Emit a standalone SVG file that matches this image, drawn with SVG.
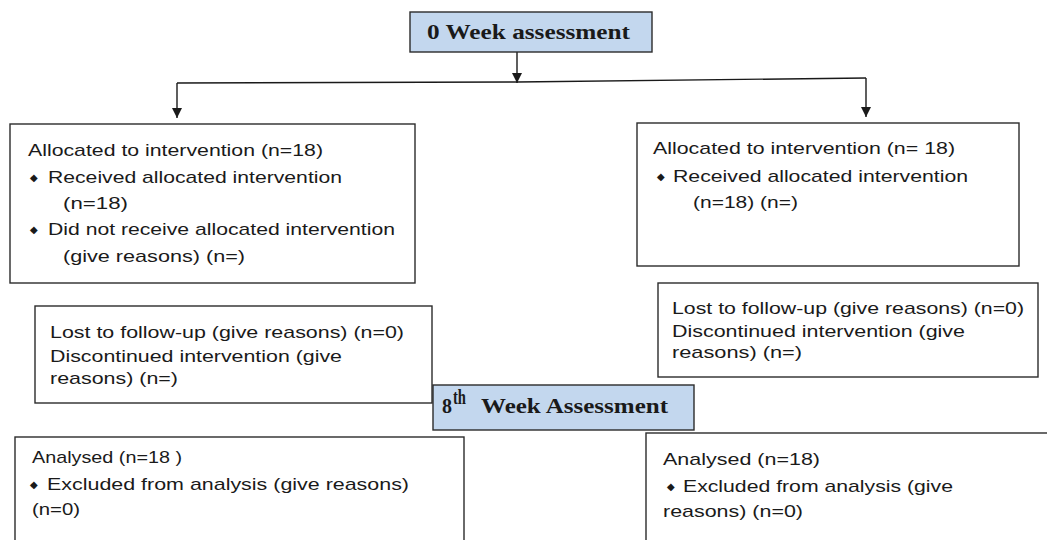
<svg xmlns="http://www.w3.org/2000/svg" width="1047" height="540" viewBox="0 0 1047 540">
<style>
.box{fill:#ffffff;stroke:#2b2b2b;stroke-width:1.4}
.hdr{fill:#c3d7ee;stroke:#2b2b2b;stroke-width:1.4}
.t{font-family:"Liberation Sans",Arial,sans-serif;font-size:17px;fill:#1a1a1a}
.b{font-family:"Liberation Sans",Arial,sans-serif;font-size:10px;fill:#1a1a1a}
.h{font-family:"Liberation Serif","Times New Roman",serif;font-size:20px;font-weight:bold;fill:#1a1a1a}
.c{fill:none;stroke:#1a1a1a;stroke-width:1.4}
</style>
<defs>
<marker id="ar" markerWidth="12" markerHeight="10" refX="10" refY="5" orient="auto" markerUnits="userSpaceOnUse" viewBox="0 0 12 10">
<path d="M0,0 L10,5 L0,10 z" fill="#1a1a1a"/>
</marker>
</defs>
<g id="connectors">
<line class="c" x1="517" y1="52" x2="517" y2="83" marker-end="url(#ar)"/>
<polyline class="c" points="177,83 517,82 866,78"/>
<line class="c" x1="177" y1="83" x2="177" y2="118" marker-end="url(#ar)"/>
<line class="c" x1="866" y1="78" x2="866" y2="117" marker-end="url(#ar)"/>
</g>
<g id="week0">
<rect class="hdr" x="410" y="12" width="242" height="40"/>
<text class="h" x="427" y="39" textLength="203" lengthAdjust="spacingAndGlyphs">0 Week assessment</text>
</g>
<g id="alloc-left">
<rect class="box" x="10" y="124" width="405" height="159"/>
<text class="t" x="28" y="156" textLength="295" lengthAdjust="spacingAndGlyphs">Allocated to intervention (n=18)</text>
<text class="b" x="30" y="181">◆</text>
<text class="t" x="48" y="183" textLength="294" lengthAdjust="spacingAndGlyphs">Received allocated intervention</text>
<text class="t" x="63" y="209" textLength="65" lengthAdjust="spacingAndGlyphs">(n=18)</text>
<text class="b" x="30" y="233">◆</text>
<text class="t" x="48" y="235" textLength="347" lengthAdjust="spacingAndGlyphs">Did not receive allocated intervention</text>
<text class="t" x="63" y="262" textLength="182" lengthAdjust="spacingAndGlyphs">(give reasons) (n=)</text>
</g>
<g id="alloc-right">
<rect class="box" x="637" y="123" width="382" height="143"/>
<text class="t" x="653" y="154" textLength="302" lengthAdjust="spacingAndGlyphs">Allocated to intervention (n= 18)</text>
<text class="b" x="657" y="180">◆</text>
<text class="t" x="673" y="182" textLength="295" lengthAdjust="spacingAndGlyphs">Received allocated intervention</text>
<text class="t" x="693" y="208" textLength="105" lengthAdjust="spacingAndGlyphs">(n=18) (n=)</text>
</g>
<g id="lost-left">
<rect class="box" x="35" y="306" width="397" height="97"/>
<text class="t" x="50" y="338" textLength="354" lengthAdjust="spacingAndGlyphs">Lost to follow-up (give reasons) (n=0)</text>
<text class="t" x="50" y="362" textLength="292" lengthAdjust="spacingAndGlyphs">Discontinued intervention (give</text>
<text class="t" x="50" y="384" textLength="128" lengthAdjust="spacingAndGlyphs">reasons) (n=)</text>
</g>
<g id="lost-right">
<rect class="box" x="658" y="283" width="380" height="94"/>
<text class="t" x="672" y="314" textLength="352" lengthAdjust="spacingAndGlyphs">Lost to follow-up (give reasons) (n=0)</text>
<text class="t" x="672" y="337" textLength="293" lengthAdjust="spacingAndGlyphs">Discontinued intervention (give</text>
<text class="t" x="672" y="358" textLength="130" lengthAdjust="spacingAndGlyphs">reasons) (n=)</text>
</g>
<g id="week8">
<rect class="hdr" x="433" y="385" width="261" height="45"/>
<text class="h" x="442" y="413">8</text>
<text class="h" x="453" y="404" font-size="11" textLength="13" lengthAdjust="spacingAndGlyphs">th</text>
<text class="h" x="481" y="413" textLength="187" lengthAdjust="spacingAndGlyphs">Week Assessment</text>
</g>
<g id="analysed-left">
<rect class="box" x="15" y="437" width="449" height="120"/>
<text class="t" x="32" y="463" textLength="150" lengthAdjust="spacingAndGlyphs">Analysed (n=18 )</text>
<text class="b" x="30" y="488">◆</text>
<text class="t" x="47" y="490" textLength="362" lengthAdjust="spacingAndGlyphs">Excluded from analysis (give reasons)</text>
<text class="t" x="32" y="515" textLength="48" lengthAdjust="spacingAndGlyphs">(n=0)</text>
</g>
<g id="analysed-right">
<rect class="box" x="646" y="433" width="420" height="120"/>
<text class="t" x="663" y="465" textLength="157" lengthAdjust="spacingAndGlyphs">Analysed (n=18)</text>
<text class="b" x="667" y="490">◆</text>
<text class="t" x="683" y="492" textLength="270" lengthAdjust="spacingAndGlyphs">Excluded from analysis (give</text>
<text class="t" x="663" y="517" textLength="140" lengthAdjust="spacingAndGlyphs">reasons) (n=0)</text>
</g>
</svg>
